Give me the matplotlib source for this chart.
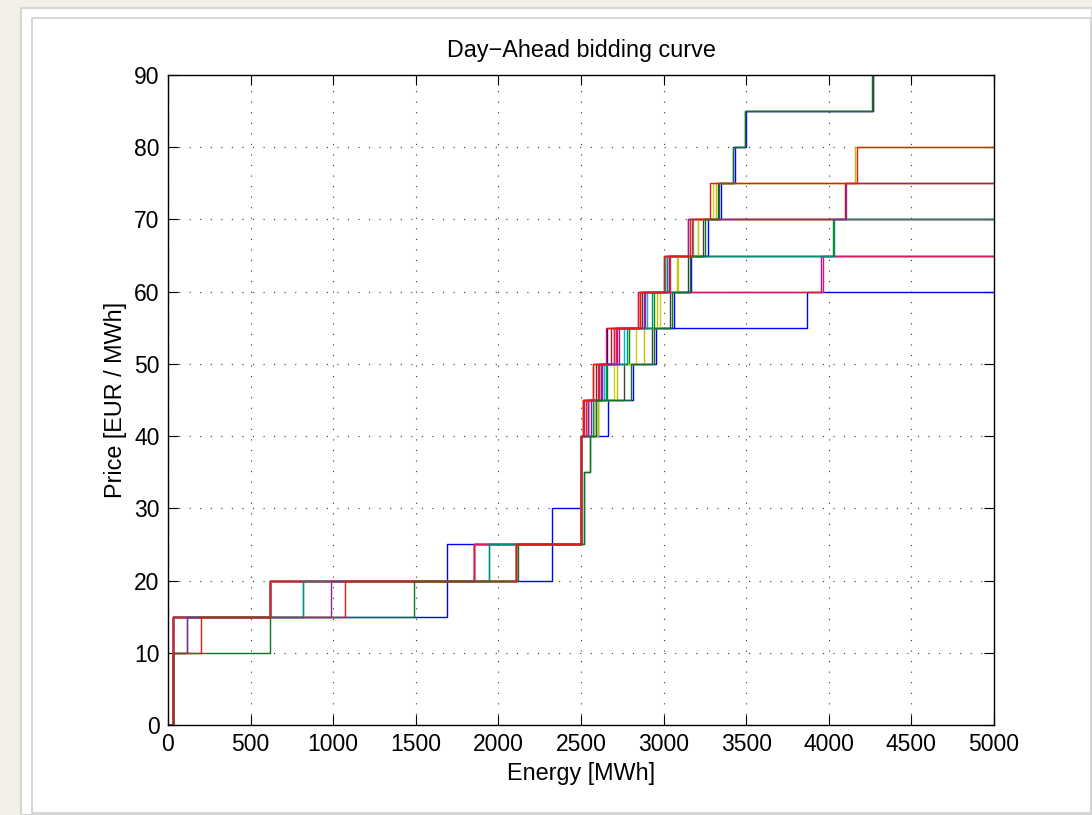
import matplotlib
matplotlib.use("Agg")
import matplotlib.pyplot as plt
from matplotlib.patches import Rectangle

# ---------------- data (price levels and the energy at which each curve steps up) -------------
e_max = 5000

c01_prices = [0, 15, 25, 40, 45, 50, 55, 60]
c01_jumps = [28, 1690, 2497, 2545, 2610, 2660, 3871]

c02_prices = [0, 15, 20, 30, 40, 45, 50, 55, 60, 65, 70, 75, 80, 85, 95]
c02_jumps = [28, 618, 2325, 2497, 2662, 2816, 2952, 3062, 3168, 3267, 3345, 3430, 3496, 4270]

c03_prices = [0, 15, 20, 25, 40, 45, 50, 55, 60, 65, 70, 75, 80, 85, 95]
c03_jumps = [28, 618, 2109, 2497, 2600, 2760, 2930, 3040, 3150, 3240, 3330, 3420, 3493, 4265]

c04_prices = [0, 15, 20, 25, 40, 45, 50, 55, 60, 65, 70, 75]
c04_jumps = [28, 618, 1855, 2497, 2515, 2570, 2680, 2860, 3010, 3150, 4100]

c05_prices = [0, 15, 20, 25, 40, 45, 50, 55, 60, 65, 70, 75, 80]
c05_jumps = [28, 618, 2109, 2497, 2600, 2720, 2880, 2960, 3080, 3206, 3315, 4160]

c06_prices = [0, 15, 20, 25, 40, 45, 50, 55, 60, 65, 70]
c06_jumps = [28, 818, 1944, 2497, 2540, 2640, 2760, 2900, 3010, 3180]

c07_prices = [0, 15, 20, 25, 40, 45, 50, 55, 60, 65]
c07_jumps = [28, 618, 2109, 2497, 2560, 2630, 2720, 2890, 3955]

c08_prices = [0, 15, 20, 25, 35, 40, 45, 50, 55, 60, 65, 70]
c08_jumps = [28, 618, 2109, 2520, 2555, 2580, 2660, 2790, 2940, 3030, 4025]

c09_prices = [0, 15, 20, 25, 40, 45, 50, 55, 60, 65]
c09_jumps = [28, 618, 1855, 2497, 2510, 2590, 2700, 2870, 3000]

c10_prices = [0, 15, 20, 25, 40, 45, 50, 55, 60, 65, 70]
c10_jumps = [28, 618, 1855, 2497, 2530, 2600, 2710, 2848, 3040, 3160]

c11_prices = [0, 15, 20, 25, 40, 45, 50, 55, 60, 65, 70, 75]
c11_jumps = [28, 618, 2109, 2497, 2580, 2700, 2830, 2980, 3090, 3206, 3300]

c12_prices = [0, 15, 20, 25, 40, 45, 50, 55, 60, 65]
c12_jumps = [28, 618, 1855, 2497, 2520, 2610, 2700, 2848, 3962]

c13_prices = [0, 10, 15, 20, 25, 40, 45, 50, 55, 60, 65, 70]
c13_jumps = [28, 113, 818, 1944, 2497, 2570, 2650, 2780, 2930, 3020, 4032]

c14_prices = [0, 10, 15, 20, 25, 40, 45, 50, 55, 60, 65, 70, 75]
c14_jumps = [28, 113, 986, 2109, 2497, 2540, 2620, 2730, 2880, 3030, 3150, 4107]

c15_prices = [0, 10, 15, 20, 25, 35, 40, 45, 50, 55, 60, 65, 70, 75, 80, 85, 95]
c15_jumps = [28, 618, 1490, 2121, 2520, 2555, 2590, 2800, 2940, 3050, 3160, 3248, 3333, 3420, 3490, 4262]

c16_prices = [0, 10, 15, 20, 25, 40, 45, 50, 55, 60, 65, 70, 75, 80]
c16_jumps = [28, 200, 1073, 2109, 2497, 2510, 2570, 2650, 2860, 3000, 3170, 3281, 4168]

curves = [
    (c01_prices, c01_jumps), (c02_prices, c02_jumps), (c03_prices, c03_jumps),
    (c04_prices, c04_jumps), (c05_prices, c05_jumps), (c06_prices, c06_jumps),
    (c07_prices, c07_jumps), (c08_prices, c08_jumps), (c09_prices, c09_jumps),
    (c10_prices, c10_jumps), (c11_prices, c11_jumps), (c12_prices, c12_jumps),
    (c13_prices, c13_jumps), (c14_prices, c14_jumps), (c15_prices, c15_jumps),
    (c16_prices, c16_jumps),
]

x_ticks = [0, 500, 1000, 1500, 2000, 2500, 3000, 3500, 4000, 4500, 5000]
y_ticks = [0, 10, 20, 30, 40, 50, 60, 70, 80, 90]

# ---------------- styles ----------------
colors = [
    (0.0, 0.0, 1.0), (0.0, 0.0, 1.0), (0.25, 0.25, 0.25), (1.0, 0.0, 0.0),
    (0.75, 0.75, 0.0), (0.0, 0.75, 0.75), (0.75, 0.0, 0.75), (0.0, 0.55, 0.0),
    (0.35, 0.2, 0.2), (1.0, 0.1, 0.1), (0.8, 0.8, 0.1), (0.85, 0.1, 0.35),
    (0.0, 0.55, 0.5), (0.55, 0.15, 0.6), (0.05, 0.45, 0.15), (0.9, 0.1, 0.05),
]

plt.rcParams['font.family'] = ['Liberation Sans', 'DejaVu Sans']

W, H = 1092, 815
fig = plt.figure(figsize=(W / 100, H / 100), dpi=100)
fig.patch.set_facecolor('#f3f0ea')

# white panel with borders
fig.patches.append(Rectangle((21 / W, 0), 1 - 21 / W, 1 - 8 / H, transform=fig.transFigure,
                             facecolor='white', edgecolor='#d8d6d2', lw=1.5, zorder=-2))
fig.patches.append(Rectangle((32 / W, 2 / H), 1 - 33.5 / W, 1 - 20 / H, transform=fig.transFigure,
                             facecolor='none', edgecolor='#d0d0d0', lw=1.2, zorder=-1))

ax = fig.add_axes([168 / W, 1 - 725 / H, (994 - 168) / W, (725 - 75) / H])
ax.set_facecolor('white')

for (prices, jumps), col in zip(curves, colors):
    xs = [0] + list(jumps) + [e_max]
    ys = list(prices) + [prices[-1]]
    ax.step(xs, ys, where='post', color=col, lw=1.0)

ax.set_xlim(0, 5000)
ax.set_ylim(0, 90)
ax.set_xticks(x_ticks)
ax.set_yticks(y_ticks)
ax.grid(True, color='#333333', linestyle=(0, (1, 8.5)), lw=0.8)
ax.set_axisbelow(True)
ax.tick_params(direction='in', length=7, width=0.8, top=True, right=True,
               labelsize=16.5, pad=6, colors='black')
for s in ax.spines.values():
    s.set_linewidth(1.0)
    s.set_color('black')

ax.set_title('Day\u2212Ahead bidding curve', fontsize=16.8, pad=13)
ax.set_xlabel('Energy [MWh]', fontsize=16.8, labelpad=4)
ax.set_ylabel('Price [EUR / MWh]', fontsize=16.8, labelpad=5)

fig.savefig('out.png', dpi=100, facecolor=fig.get_facecolor())
